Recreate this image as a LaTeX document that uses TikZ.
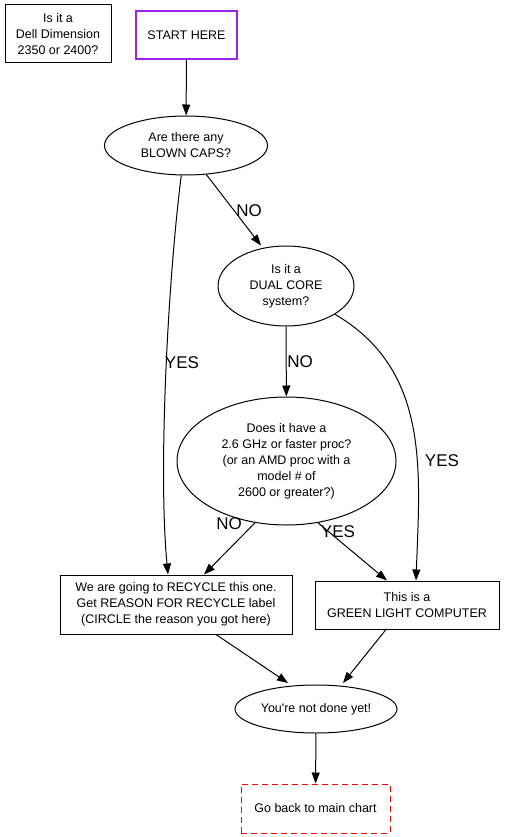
\documentclass[tikz,border=0pt]{standalone}
\usepackage{fontspec}
\setmainfont{Liberation Sans}[Ligatures=TeXOff]
\usetikzlibrary{arrows.meta,shapes.geometric}
\definecolor{gvpurple}{RGB}{160,32,240}
\tikzset{
  txt/.style={font=\fontsize{12.5}{16}\selectfont, align=center, inner sep=0pt},
  box/.style={txt, draw, rectangle, line width=1pt},
  oval/.style={txt, draw, ellipse, line width=1pt},
  lbl/.style={font=\fontsize{17}{20}\selectfont, inner sep=0pt},
  arr/.style={line width=1pt, -{Triangle[length=11pt,width=8pt]}},
  plain/.style={line width=1pt}
}
\begin{document}
\begin{tikzpicture}[x=1pt,y=-1pt]
\useasboundingbox (0,0) rectangle (505,837);
\node[box, minimum width=106pt, minimum height=58pt] (dell) at (58,34) {Is it a\\Dell Dimension\\2350 or 2400?};
\node[box, draw=gvpurple, line width=2pt, minimum width=101pt, minimum height=48pt] (start) at (186.5,35) {START HERE};
\node[oval, minimum width=163pt, minimum height=59pt] (caps) at (186,145.5) {Are there any\\BLOWN CAPS?};
\node[oval, minimum width=136pt, minimum height=80pt] (dual) at (286,286) {Is it a\\DUAL CORE\\system?};
\node[oval, minimum width=219pt, minimum height=128pt] (proc) at (286.5,461) {Does it have a\\2.6 GHz or faster proc?\\(or an AMD proc with a\\model \# of\\2600 or greater?)};
\node[box, minimum width=232pt, minimum height=59pt] (recycle) at (176,604.5) {We are going to RECYCLE this one.\\Get REASON FOR RECYCLE label\\(CIRCLE the reason you got here)};
\node[box, minimum width=184pt, minimum height=48pt] (green) at (407,605) {This is a\\GREEN LIGHT COMPUTER};
\node[oval, minimum width=162pt, minimum height=48pt] (done) at (316,709) {You're not done yet!};
\node[box, draw=red, dashed, dash pattern=on 6pt off 4pt, minimum width=149pt, minimum height=49pt] (back) at (315.5,808.5) {Go back to main chart};

\draw[arr] (start) -- (caps);
\draw[arr] (caps.305) -- ([xshift=-25pt]dual.north);
\draw[arr] (caps.261) .. controls (168,280) and (158,470) .. ([xshift=-8pt]recycle.north);
\draw[arr] (dual) -- (proc);
\draw[arr] (dual.330) .. controls (430,370) and (420,470) .. ([xshift=9pt]green.north);
\draw[arr] (proc.243) -- ([xshift=28pt]recycle.north);
\draw[arr] (proc.297) -- ([xshift=-20pt]green.north);
\draw[arr] ([xshift=40pt]recycle.south) -- ([xshift=-28pt,yshift=1.5pt]done.north);
\draw[arr] ([xshift=-21pt]green.south) -- ([xshift=27pt,yshift=1.5pt]done.north);
\draw[arr] (done) -- (back);

\node[lbl] (lno1) at (249,211) {NO};
\node[lbl] (lyes1) at (182,363) {YES};
\node[lbl] (lno2) at (300,362) {NO};
\node[lbl] (lyes2) at (442,461) {YES};
\node[lbl] (lno3) at (229,524) {NO};
\node[lbl] (lyes3) at (338,532) {YES};
\end{tikzpicture}
\end{document}
